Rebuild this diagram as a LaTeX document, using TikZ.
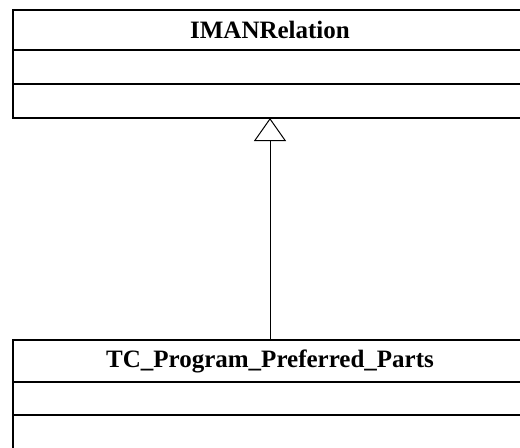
\documentclass[tikz,border=0pt]{standalone}
\usepackage{fontspec}
\setmainfont{Liberation Serif}
\usetikzlibrary{positioning}
\usetikzlibrary{arrows.meta}

\begin{document}
\begin{tikzpicture}[x=0.5pt,y=-0.5pt,
  classhead/.style={draw,line width=0.8pt,outer sep=0pt,inner sep=0pt,minimum width=257pt,font=\fontsize{12.5}{15}\selectfont\bfseries},
  classpart/.style={draw,line width=0.8pt,outer sep=0pt,inner sep=0pt,minimum width=257pt},
  frame/.style={line width=1.1pt},
  inherit/.style={-{Triangle[open,length=11.5pt,width=16pt]},line width=0.5pt}]
\useasboundingbox (0,0) rectangle (520,447);
\clip (0,0) rectangle (520,447);
% superclass
\node[classhead,minimum height=20pt,anchor=north] (iman) at (270,10) {IMANRelation};
\node[classpart,minimum height=17pt,below=0pt of iman] (imanattr) {};
\node[classpart,minimum height=17pt,below=0pt of imanattr] (imanops) {};
\draw[frame] (iman.north west) rectangle (imanops.south east);
% subclass
\node[classhead,minimum height=21pt,anchor=north] (tcpp) at (270,340) {TC\_Program\_Preferred\_Parts};
\node[classpart,minimum height=16.5pt,below=0pt of tcpp] (tcppattr) {};
\node[classpart,minimum height=20pt,below=0pt of tcppattr] (tcppops) {};
\draw[frame] (tcpp.north west) rectangle (tcppops.south east);
% generalization
\draw[inherit] (tcpp.north) -- (imanops.south);
\end{tikzpicture}
\end{document}
